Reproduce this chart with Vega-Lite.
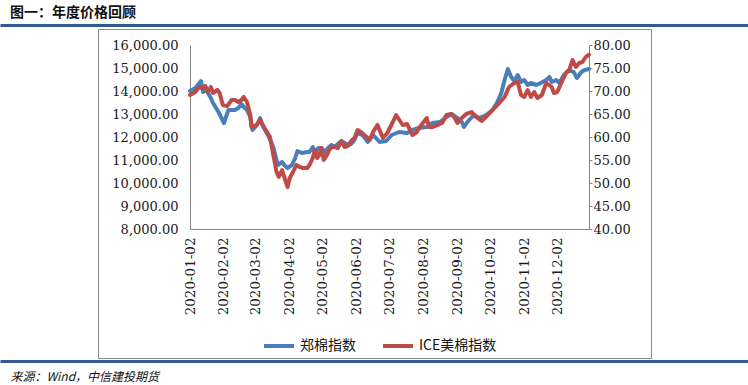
{
  "$schema": "https://vega.github.io/schema/vega-lite/v6.json",
  "autosize": {"type": "none"},
  "width": 553,
  "height": 329,
  "padding": {"left": 98, "top": 29, "right": 97, "bottom": 27},
  "background": "white",
  "title": {
    "text": "图一：年度价格回顾",
    "anchor": "start",
    "frame": "group",
    "dx": -88,
    "offset": 5,
    "font": "Noto Sans CJK SC",
    "fontSize": 14,
    "fontWeight": "bold",
    "color": "#111111"
  },
  "config": {
    "view": {"stroke": "#8c8c8c", "strokeWidth": 1},
    "axis": {"grid": false, "domainColor": "#868686", "labelColor": "#1a1a1a", "labelFont": "DejaVu Serif", "labelFontSize": 13, "titleFont": "Noto Sans CJK SC"}
  },
  "datasets": {
    "zheng": [
      {"date": "2020-01-02", "v": 14000}, {"date": "2020-01-07", "v": 14130}, {"date": "2020-01-12", "v": 14435},
      {"date": "2020-01-14", "v": 13957}, {"date": "2020-01-17", "v": 14043}, {"date": "2020-01-21", "v": 13696},
      {"date": "2020-01-23", "v": 13478}, {"date": "2020-01-28", "v": 13087}, {"date": "2020-02-02", "v": 12609},
      {"date": "2020-02-06", "v": 13174}, {"date": "2020-02-12", "v": 13174}, {"date": "2020-02-15", "v": 13261},
      {"date": "2020-02-18", "v": 13435}, {"date": "2020-02-20", "v": 13304}, {"date": "2020-02-23", "v": 13174},
      {"date": "2020-02-26", "v": 12870}, {"date": "2020-02-28", "v": 12304}, {"date": "2020-03-03", "v": 12522},
      {"date": "2020-03-06", "v": 12826}, {"date": "2020-03-08", "v": 12522}, {"date": "2020-03-13", "v": 12087},
      {"date": "2020-03-18", "v": 11565}, {"date": "2020-03-22", "v": 10783}, {"date": "2020-03-26", "v": 10913},
      {"date": "2020-03-28", "v": 10783}, {"date": "2020-03-31", "v": 10652}, {"date": "2020-04-04", "v": 10783},
      {"date": "2020-04-07", "v": 11087}, {"date": "2020-04-09", "v": 11391}, {"date": "2020-04-13", "v": 11304},
      {"date": "2020-04-18", "v": 11348}, {"date": "2020-04-20", "v": 11348}, {"date": "2020-04-23", "v": 11565},
      {"date": "2020-04-25", "v": 11304}, {"date": "2020-04-28", "v": 11522}, {"date": "2020-05-01", "v": 11522},
      {"date": "2020-05-04", "v": 11348}, {"date": "2020-05-07", "v": 11522}, {"date": "2020-05-10", "v": 11652},
      {"date": "2020-05-13", "v": 11565}, {"date": "2020-05-16", "v": 11696}, {"date": "2020-05-19", "v": 11826},
      {"date": "2020-05-22", "v": 11739}, {"date": "2020-05-25", "v": 11652}, {"date": "2020-05-28", "v": 11696},
      {"date": "2020-05-31", "v": 11870}, {"date": "2020-06-03", "v": 12174}, {"date": "2020-06-07", "v": 12087},
      {"date": "2020-06-09", "v": 12000}, {"date": "2020-06-12", "v": 11783}, {"date": "2020-06-17", "v": 12087},
      {"date": "2020-06-23", "v": 11783}, {"date": "2020-06-29", "v": 11826}, {"date": "2020-07-04", "v": 12087},
      {"date": "2020-07-11", "v": 12217}, {"date": "2020-07-18", "v": 12174}, {"date": "2020-07-23", "v": 12304},
      {"date": "2020-07-29", "v": 12391}, {"date": "2020-08-05", "v": 12435}, {"date": "2020-08-10", "v": 12609},
      {"date": "2020-08-17", "v": 12652}, {"date": "2020-08-23", "v": 12870}, {"date": "2020-08-28", "v": 13000},
      {"date": "2020-09-02", "v": 12826}, {"date": "2020-09-06", "v": 12652}, {"date": "2020-09-08", "v": 12435},
      {"date": "2020-09-11", "v": 12652}, {"date": "2020-09-17", "v": 12957}, {"date": "2020-09-22", "v": 12826},
      {"date": "2020-09-27", "v": 12913}, {"date": "2020-10-04", "v": 13174}, {"date": "2020-10-08", "v": 13478},
      {"date": "2020-10-12", "v": 13913}, {"date": "2020-10-15", "v": 14478}, {"date": "2020-10-18", "v": 14957},
      {"date": "2020-10-21", "v": 14609}, {"date": "2020-10-24", "v": 14435}, {"date": "2020-10-27", "v": 14696},
      {"date": "2020-10-30", "v": 14391}, {"date": "2020-11-02", "v": 14478}, {"date": "2020-11-05", "v": 14261},
      {"date": "2020-11-08", "v": 14348}, {"date": "2020-11-13", "v": 14261}, {"date": "2020-11-17", "v": 14348},
      {"date": "2020-11-22", "v": 14478}, {"date": "2020-11-25", "v": 14609}, {"date": "2020-11-27", "v": 14391},
      {"date": "2020-12-01", "v": 14478}, {"date": "2020-12-04", "v": 14348}, {"date": "2020-12-08", "v": 14696},
      {"date": "2020-12-13", "v": 14913}, {"date": "2020-12-17", "v": 14826}, {"date": "2020-12-20", "v": 14565},
      {"date": "2020-12-24", "v": 14826}, {"date": "2020-12-27", "v": 14913}, {"date": "2020-12-31", "v": 14957}
    ],
    "ice": [
      {"date": "2020-01-02", "v": 69.13}, {"date": "2020-01-07", "v": 69.78}, {"date": "2020-01-10", "v": 70.87},
      {"date": "2020-01-13", "v": 70.65}, {"date": "2020-01-16", "v": 71.09}, {"date": "2020-01-18", "v": 69.78},
      {"date": "2020-01-21", "v": 70.87}, {"date": "2020-01-23", "v": 69.57}, {"date": "2020-01-27", "v": 70.22},
      {"date": "2020-01-29", "v": 69.57}, {"date": "2020-02-01", "v": 66.96}, {"date": "2020-02-05", "v": 66.74},
      {"date": "2020-02-09", "v": 68.04}, {"date": "2020-02-12", "v": 68.04}, {"date": "2020-02-15", "v": 67.61},
      {"date": "2020-02-18", "v": 68.04}, {"date": "2020-02-20", "v": 68.70}, {"date": "2020-02-23", "v": 67.61},
      {"date": "2020-02-26", "v": 64.78}, {"date": "2020-02-27", "v": 62.17}, {"date": "2020-03-03", "v": 62.61},
      {"date": "2020-03-06", "v": 63.70}, {"date": "2020-03-10", "v": 61.96}, {"date": "2020-03-15", "v": 60.00},
      {"date": "2020-03-18", "v": 56.09}, {"date": "2020-03-21", "v": 52.39}, {"date": "2020-03-23", "v": 51.30},
      {"date": "2020-03-26", "v": 52.83}, {"date": "2020-03-28", "v": 51.30}, {"date": "2020-03-31", "v": 49.13},
      {"date": "2020-04-02", "v": 51.09}, {"date": "2020-04-05", "v": 52.39}, {"date": "2020-04-08", "v": 53.91},
      {"date": "2020-04-11", "v": 53.48}, {"date": "2020-04-14", "v": 53.26}, {"date": "2020-04-18", "v": 53.26},
      {"date": "2020-04-20", "v": 53.91}, {"date": "2020-04-23", "v": 55.43}, {"date": "2020-04-25", "v": 57.17},
      {"date": "2020-04-27", "v": 55.43}, {"date": "2020-04-29", "v": 56.09}, {"date": "2020-05-01", "v": 57.61},
      {"date": "2020-05-03", "v": 55.00}, {"date": "2020-05-06", "v": 56.09}, {"date": "2020-05-08", "v": 57.17},
      {"date": "2020-05-10", "v": 57.83}, {"date": "2020-05-13", "v": 57.83}, {"date": "2020-05-16", "v": 57.61},
      {"date": "2020-05-19", "v": 59.13}, {"date": "2020-05-22", "v": 57.83}, {"date": "2020-05-25", "v": 58.04},
      {"date": "2020-05-28", "v": 59.13}, {"date": "2020-05-31", "v": 59.78}, {"date": "2020-06-03", "v": 61.52},
      {"date": "2020-06-07", "v": 60.87}, {"date": "2020-06-09", "v": 60.43}, {"date": "2020-06-14", "v": 59.35},
      {"date": "2020-06-17", "v": 61.09}, {"date": "2020-06-21", "v": 62.61}, {"date": "2020-06-26", "v": 59.78},
      {"date": "2020-06-30", "v": 60.87}, {"date": "2020-07-05", "v": 63.26}, {"date": "2020-07-08", "v": 64.78},
      {"date": "2020-07-11", "v": 63.70}, {"date": "2020-07-14", "v": 62.61}, {"date": "2020-07-18", "v": 62.83},
      {"date": "2020-07-23", "v": 60.43}, {"date": "2020-07-27", "v": 61.09}, {"date": "2020-07-29", "v": 61.96},
      {"date": "2020-08-05", "v": 64.13}, {"date": "2020-08-07", "v": 62.17}, {"date": "2020-08-10", "v": 62.17},
      {"date": "2020-08-15", "v": 62.61}, {"date": "2020-08-19", "v": 63.04}, {"date": "2020-08-23", "v": 64.78},
      {"date": "2020-08-27", "v": 65.00}, {"date": "2020-08-30", "v": 64.35}, {"date": "2020-09-02", "v": 63.04},
      {"date": "2020-09-06", "v": 64.13}, {"date": "2020-09-10", "v": 65.00}, {"date": "2020-09-15", "v": 65.43},
      {"date": "2020-09-19", "v": 64.35}, {"date": "2020-09-24", "v": 63.48}, {"date": "2020-09-28", "v": 64.35},
      {"date": "2020-10-04", "v": 65.87}, {"date": "2020-10-10", "v": 67.39}, {"date": "2020-10-15", "v": 68.70},
      {"date": "2020-10-19", "v": 70.87}, {"date": "2020-10-24", "v": 71.74}, {"date": "2020-10-27", "v": 71.96},
      {"date": "2020-10-30", "v": 69.13}, {"date": "2020-11-02", "v": 68.70}, {"date": "2020-11-05", "v": 70.22},
      {"date": "2020-11-08", "v": 68.70}, {"date": "2020-11-11", "v": 69.78}, {"date": "2020-11-14", "v": 68.48},
      {"date": "2020-11-18", "v": 69.13}, {"date": "2020-11-22", "v": 71.74}, {"date": "2020-11-27", "v": 70.87},
      {"date": "2020-11-29", "v": 69.57}, {"date": "2020-12-02", "v": 69.78}, {"date": "2020-12-07", "v": 72.39},
      {"date": "2020-12-10", "v": 73.91}, {"date": "2020-12-13", "v": 74.57}, {"date": "2020-12-16", "v": 76.74},
      {"date": "2020-12-19", "v": 75.22}, {"date": "2020-12-22", "v": 76.09}, {"date": "2020-12-25", "v": 76.30},
      {"date": "2020-12-28", "v": 77.39}, {"date": "2020-12-31", "v": 77.9}
    ]
  },
  "layer": [
    {
      "data": {"name": "zheng"},
      "mark": {"type": "line", "strokeWidth": 4, "strokeJoin": "round", "strokeCap": "round"},
      "encoding": {
        "x": {
          "field": "date", "type": "temporal",
          "scale": {"type": "utc", "domain": [{"year": 2020, "month": 1, "date": 2, "utc": true}, {"year": 2020, "month": 12, "date": 31, "utc": true}], "range": [92, 491], "nice": false},
          "axis": {
            "orient": "bottom", "offset": -129, "title": null, "ticks": false, "tickSize": 0,
            "values": [
              {"year": 2020, "month": 1, "date": 2, "utc": true}, {"year": 2020, "month": 2, "date": 2, "utc": true},
              {"year": 2020, "month": 3, "date": 2, "utc": true}, {"year": 2020, "month": 4, "date": 2, "utc": true},
              {"year": 2020, "month": 5, "date": 2, "utc": true}, {"year": 2020, "month": 6, "date": 2, "utc": true},
              {"year": 2020, "month": 7, "date": 2, "utc": true}, {"year": 2020, "month": 8, "date": 2, "utc": true},
              {"year": 2020, "month": 9, "date": 2, "utc": true}, {"year": 2020, "month": 10, "date": 2, "utc": true},
              {"year": 2020, "month": 11, "date": 2, "utc": true}, {"year": 2020, "month": 12, "date": 2, "utc": true}
            ],
            "labelExpr": "utcFormat(datum.value, '%Y-%m-%d')",
            "labelAngle": 270, "labelAlign": "right", "labelBaseline": "middle", "labelPadding": 8,
            "labelFontSize": 13.5, "labelOverlap": false, "labelFlush": false
          }
        },
        "y": {
          "field": "v", "type": "quantitative",
          "scale": {"domain": [8000, 16000], "range": [200, 16], "nice": false, "zero": false},
          "axis": {"orient": "left", "offset": -92, "title": null, "ticks": false, "tickSize": 0, "labelPadding": 12,
            "values": [8000, 9000, 10000, 11000, 12000, 13000, 14000, 15000, 16000], "format": ",.2f"}
        },
        "color": {
          "datum": "郑棉指数",
          "scale": {"domain": ["郑棉指数", "ICE美棉指数"], "range": ["#4a7ebb", "#be4b48"]},
          "legend": {
            "orient": "none", "legendX": 164, "legendY": 300, "direction": "horizontal", "title": null,
            "symbolType": "stroke", "symbolSize": 900, "symbolStrokeWidth": 4,
            "labelFont": "Noto Sans CJK SC", "labelFontSize": 14, "labelColor": "#111111", "labelOffset": 4,
            "columnPadding": 19, "labelLimit": 300, "padding": 0
          }
        }
      }
    },
    {
      "data": {"name": "ice"},
      "mark": {"type": "line", "strokeWidth": 4, "strokeJoin": "round", "strokeCap": "round"},
      "encoding": {
        "x": {
          "field": "date", "type": "temporal",
          "scale": {"type": "utc", "domain": [{"year": 2020, "month": 1, "date": 2, "utc": true}, {"year": 2020, "month": 12, "date": 31, "utc": true}], "range": [92, 491], "nice": false},
          "axis": null
        },
        "y": {
          "field": "v", "type": "quantitative",
          "scale": {"domain": [40, 80], "range": [200, 16], "nice": false, "zero": false},
          "axis": {"orient": "right", "offset": -62, "title": null, "ticks": true, "tickSize": 3, "tickColor": "#868686", "labelPadding": 1,
            "values": [40, 45, 50, 55, 60, 65, 70, 75, 80], "format": ".2f"}
        },
        "color": {"datum": "ICE美棉指数"}
      }
    },
    {
      "data": {"name": "zheng"},
      "mark": {"type": "point", "opacity": 0, "size": 0},
      "encoding": {
        "x": {
          "field": "date", "type": "temporal",
          "scale": {"type": "utc", "range": [-98, 650], "nice": false},
          "axis": {"orient": "top", "offset": 4, "title": null, "labels": false, "ticks": false, "tickSize": 0,
            "domainColor": "#2f5b8f", "domainWidth": 3}
        }
      }
    },
    {
      "data": {"name": "zheng"},
      "mark": {"type": "point", "opacity": 0, "size": 0},
      "encoding": {
        "x": {
          "field": "date", "type": "temporal",
          "scale": {"type": "utc", "range": [-98, 650], "nice": false},
          "axis": {"orient": "bottom", "offset": 3, "labels": false, "ticks": false, "tickSize": 0,
            "domainColor": "#2f5b8f", "domainWidth": 3,
            "title": "来源：Wind，中信建投期货",
            "titleAnchor": "start", "titleAlign": "left", "titleBaseline": "alphabetic",
            "titleX": -88, "titleY": 19, "titleFont": "Noto Sans CJK SC", "titleFontSize": 12,
            "titleFontStyle": "italic", "titleFontWeight": "normal", "titleColor": "#111111"}
        }
      }
    }
  ],
  "resolve": {"scale": {"x": "independent", "y": "independent"}, "axis": {"x": "independent", "y": "independent"}}
}
